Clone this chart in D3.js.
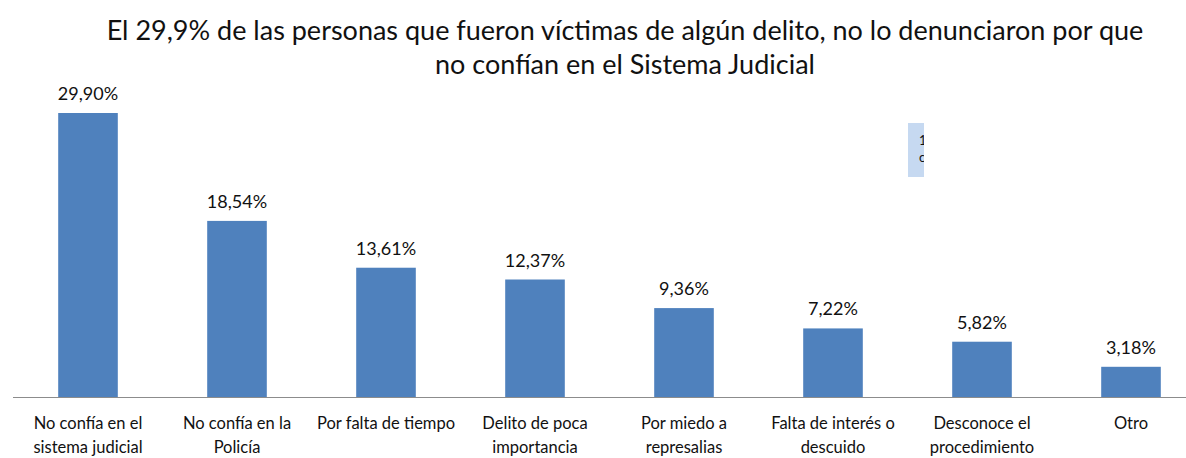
<!DOCTYPE html>
<html lang="es">
<head>
<meta charset="UTF-8">
<title>Denuncias</title>
<script src="https://d3js.org/d3.v7.min.js"></script>
<style>
  body { margin: 0; background: #fff; }
  text { font-family: Lato, "Open Sans", sans-serif; fill: #111; }
</style>
</head>
<body>
<svg id="chart"></svg>
<script>
// data
var categories = [
  ["No confía en el", "sistema judicial"],
  ["No confía en la", "Policía"],
  ["Por falta de tiempo"],
  ["Delito de poca", "importancia"],
  ["Por miedo a", "represalias"],
  ["Falta de interés o", "descuido"],
  ["Desconoce el", "procedimiento"],
  ["Otro"]
];
var values = [29.90, 18.54, 13.61, 12.37, 9.36, 7.22, 5.82, 3.18];
var titleLines = [
  "El 29,9% de las personas que fueron víctimas de algún delito, no lo denunciaron por que",
  "no confían en el Sistema Judicial"
];

var W = 1186, H = 458;
var svg = d3.select("#chart").attr("width", W).attr("height", H);

var baseY = 397;

var x = d3.scaleBand()
  .domain(d3.range(values.length))
  .range([13.5, 13.5 + 149 * values.length])
  .paddingInner(0.6)
  .paddingOuter(0.3);

var y = d3.scaleLinear()
  .domain([0, 29.9])
  .range([baseY, 113]);

// title
svg.append("g").selectAll("text")
  .data(titleLines)
  .enter().append("text")
  .attr("x", 625)
  .attr("y", function (d, i) { return 40 + i * 34; })
  .attr("text-anchor", "middle")
  .style("font-size", "27px")
  .text(function (d) { return d; });

// bars
svg.append("g").selectAll("rect")
  .data(values)
  .enter().append("rect")
  .attr("x", function (d, i) { return x(i); })
  .attr("width", x.bandwidth())
  .attr("y", function (d) { return y(d); })
  .attr("height", function (d) { return baseY - y(d); })
  .attr("fill", "#4f81bd");

// value labels
svg.append("g").selectAll("text")
  .data(values)
  .enter().append("text")
  .attr("x", function (d, i) { return x(i) + x.bandwidth() / 2; })
  .attr("y", function (d) { return y(d) - 13; })
  .attr("text-anchor", "middle")
  .style("font-size", "18px")
  .text(function (d) { return d.toFixed(2).replace(".", ",") + "%"; });

// baseline
svg.append("line")
  .attr("x1", 13).attr("x2", W)
  .attr("y1", baseY + 0.5).attr("y2", baseY + 0.5)
  .attr("stroke", "#8c8c8c")
  .attr("stroke-width", 1.2);

// category labels
var cat = svg.append("g").selectAll("text")
  .data(categories)
  .enter().append("text")
  .attr("text-anchor", "middle")
  .style("font-size", "16.5px");
cat.selectAll("tspan")
  .data(function (d, i) { return d.map(function (s) { return { s: s, i: i }; }); })
  .enter().append("tspan")
  .attr("x", function (d) { return x(d.i) + x.bandwidth() / 2; })
  .attr("y", function (d, j) { return 429 + j * 24; })
  .text(function (d) { return d.s; });

// stray clipped text box in the original
svg.append("clipPath").attr("id", "boxclip")
  .append("rect").attr("x", 908).attr("y", 123).attr("width", 16).attr("height", 54);
var box = svg.append("g").attr("clip-path", "url(#boxclip)");
box.append("rect").attr("x", 908).attr("y", 123).attr("width", 16).attr("height", 54)
  .attr("fill", "#c6d9f1");
box.append("text").attr("x", 919).attr("y", 145).style("font-size", "13px").text("1");
box.append("text").attr("x", 919).attr("y", 162).style("font-size", "13px").text("c");
</script>
</body>
</html>
